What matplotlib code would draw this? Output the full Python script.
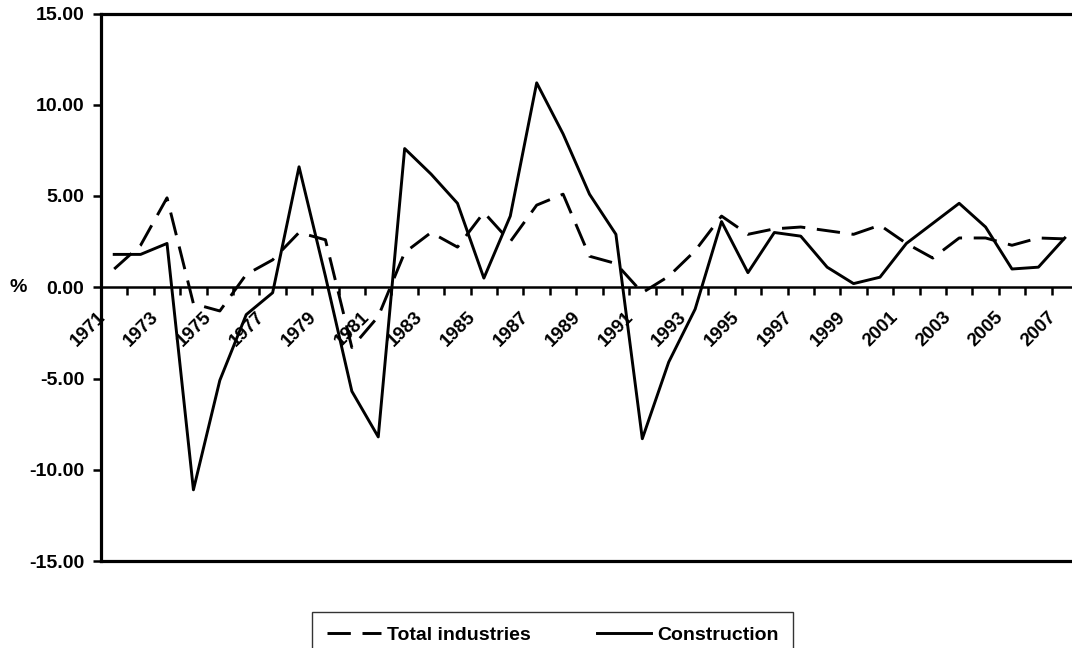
import matplotlib
matplotlib.use("Agg")
import matplotlib.pyplot as plt
import matplotlib.transforms as mtransforms
from matplotlib.lines import Line2D

plt.rcParams['font.family'] = ['Liberation Sans', 'DejaVu Sans']
plt.rcParams['font.weight'] = 'bold'

years = list(range(1971, 2008))
total_industries = [1.0, 2.3, 4.9, -0.9, -1.3, 0.7, 1.5, 3.0, 2.6, -3.3, -1.6, 1.9,
                    3.0, 2.2, 4.1, 2.5, 4.5, 5.1, 1.7, 1.3, -0.3, 0.6, 2.0, 3.9,
                    2.9, 3.2, 3.3, 3.1, 2.9, 3.4, 2.4, 1.6, 2.7, 2.7, 2.3, 2.7, 2.65]
construction = [1.8, 1.8, 2.4, -11.1, -5.1, -1.5, -0.3, 6.6, 0.6, -5.7, -8.2, 7.6,
                6.2, 4.6, 0.5, 3.9, 11.2, 8.4, 5.1, 2.9, -8.3, -4.1, -1.2, 3.6,
                0.8, 3.0, 2.8, 1.1, 0.2, 0.55, 2.4, 3.5, 4.6, 3.3, 1.0, 1.1, 2.7]
y_ticks = [-15, -10, -5, 0, 5, 10, 15]

W, H = 1072, 648
fig = plt.figure(figsize=(W / 100, H / 100), dpi=100)
ax = fig.add_axes([101 / W, 87 / H, 977 / W, (634.5 - 87) / H])

x = list(range(len(years)))
ax.plot(x, total_industries, color='black', lw=2.1, dashes=(8, 4),
        label='Total industries', solid_capstyle='butt', dash_capstyle='butt')
ax.plot(x, construction, color='black', lw=2.1, label='Construction')

ax.set_xlim(-0.5, len(years) - 0.5)
ax.set_ylim(-15, 15)

# spines
ax.spines['right'].set_visible(False)
ax.spines['top'].set_linewidth(2.3)
ax.spines['left'].set_linewidth(2.3)
ax.spines['bottom'].set_position(('data', 0))
ax.spines['bottom'].set_linewidth(1.8)
ax.add_line(Line2D([0, 1], [0, 0], transform=ax.transAxes, color='black',
                   lw=2.3, clip_on=False))

# y axis
ax.set_yticks(y_ticks)
ax.set_yticklabels([f"{v:.2f}" for v in y_ticks], fontsize=14, fontweight='bold')
ax.tick_params(axis='y', direction='out', length=6, width=1.8, pad=6)
ax.set_ylabel('%', fontsize=14, fontweight='bold', rotation=0, va='center')
ax.yaxis.set_label_coords(-0.085, 0.5)

# x axis: tick marks at category boundaries, labels at centres
ax.set_xticks([i - 0.5 for i in range(len(years) + 1)])
ax.set_xticklabels([])
ax.tick_params(axis='x', which='major', direction='out', length=6, width=1.8)
ax.set_xticks(x[::2], minor=True)
ax.set_xticklabels([str(y) for y in years[::2]], minor=True, rotation=45,
                   ha='right', fontsize=13.5, fontweight='bold')
ax.tick_params(axis='x', which='minor', length=0, pad=15)
offset = mtransforms.ScaledTranslation(-5 / 100, 0, fig.dpi_scale_trans)
for lbl in ax.get_xticklabels(minor=True):
    lbl.set_transform(lbl.get_transform() + offset)

leg = fig.legend(loc='upper left', bbox_to_anchor=(312 / W, 1 - 612 / H),
                 ncol=2, frameon=True, fancybox=False,
                 prop={'weight': 'bold', 'size': 14}, handlelength=2.8,
                 columnspacing=3.4, borderpad=0.75, handletextpad=0.3,
                 borderaxespad=0)
leg.get_frame().set_edgecolor('black')
leg.get_frame().set_linewidth(1.0)

fig.savefig('out.png', dpi=100)
